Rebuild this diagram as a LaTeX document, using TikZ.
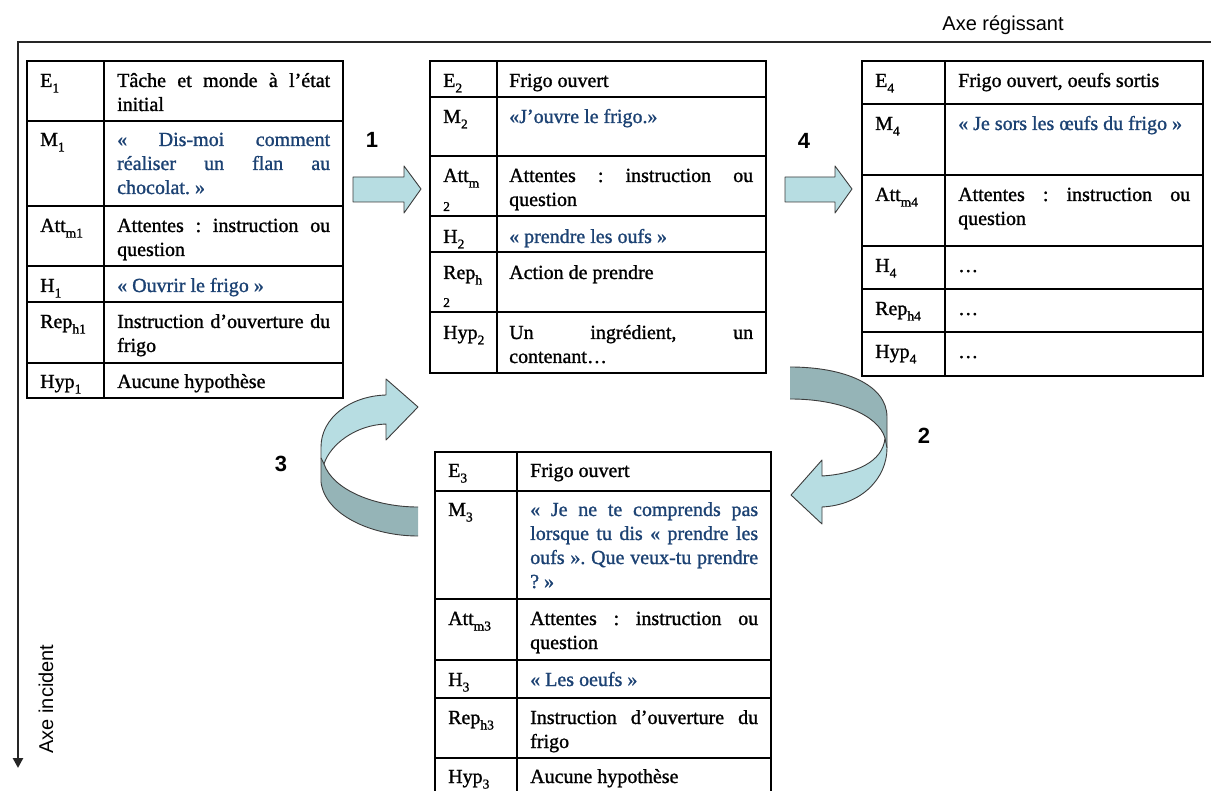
\documentclass[tikz,border=0pt]{standalone}
\usepackage{fontspec}
\setmainfont{Liberation Serif}[FakeBold=1.2]
\newfontfamily\arialfont{Liberation Sans}
\usetikzlibrary{arrows.meta}
\definecolor{msgblue}{RGB}{28,66,115}
\definecolor{arrowlight}{RGB}{183,221,226}
\definecolor{arrowdark}{RGB}{149,180,183}
\definecolor{arrowedge}{RGB}{60,60,60}
\hyphenpenalty=10000
\exhyphenpenalty=10000
\frenchspacing
\newcommand\sbs[1]{\raisebox{-5.5pt}{\fontsize{13.5}{13.5}\selectfont #1}}
\begin{document}
\begin{tikzpicture}[x=1pt,y=-1pt,
  tbl/.style={line width=2pt, draw=black},
  lab/.style={inner sep=0pt, anchor=base west, font=\fontsize{20}{24}\selectfont},
  txt/.style={inner sep=0pt, anchor=base west, align=justify, font=\fontsize{20}{24}\selectfont\frenchspacing},
  msg/.style={txt, text=msgblue},
  subtwo/.style={inner sep=0pt, anchor=base west, font=\fontsize{13.5}{13.5}\selectfont},
  num/.style={font=\arialfont\fontsize{22}{24}\selectfont\bfseries, inner sep=0pt},
  axislbl/.style={font=\arialfont\fontsize{20}{24}\selectfont, inner sep=0pt, anchor=base},
  axisline/.style={line width=2.5pt, draw=black!85},
  edge/.style={draw=arrowedge, line width=0.9pt, line join=round},
]
\useasboundingbox (0,0) rectangle (1211,791);

% axes
\draw[axisline, -{Triangle[width=10pt,length=10pt]}] (1215,42) -- (18,42) -- (18,768);
\node[axislbl] (axr) at (1003,31) {Axe régissant};
\node[axislbl, rotate=90] (axi) at (53,699) {Axe incident};

% ---------- Table 1 ----------
\draw[tbl] (27,61) rectangle (343,398);
\draw[tbl] (104,61) -- (104,398);
\foreach \yy in {121,206,266,302,363} \draw[tbl] (27,\yy) -- (343,\yy);
\node[lab] (a1) at (40,87) {E\sbs{1}};
\node[lab] (a2) at (40,146) {M\sbs{1}};
\node[lab] (a3) at (40,232) {Att\sbs{m1}};
\node[lab] (a4) at (40,292) {H\sbs{1}};
\node[lab] (a5) at (40,328) {Rep\sbs{h1}};
\node[lab] (a6) at (40,388) {Hyp\sbs{1}};
\node[txt, text width=213pt] (b1) at (117,87) {Tâche et monde à l’état\linebreak initial};
\node[msg, text width=213pt] (b2) at (117,146) {« Dis-moi comment\linebreak réaliser un flan au\linebreak chocolat. »};
\node[txt, text width=213pt] (b3) at (117,232) {Attentes : instruction ou\linebreak question};
\node[msg, text width=213pt] (b4) at (117,292) {« Ouvrir le frigo »};
\node[txt, text width=213pt] (b5) at (117,328) {Instruction d’ouverture du\linebreak frigo};
\node[txt, text width=213pt] (b6) at (117,388) {Aucune hypothèse};

% ---------- Table 2 ----------
\draw[tbl] (430,61) rectangle (766,373);
\draw[tbl] (497,61) -- (497,373);
\foreach \yy in {97,156,216,252,312} \draw[tbl] (430,\yy) -- (766,\yy);
\node[lab] (c1) at (443,87) {E\sbs{2}};
\node[lab] (c2) at (443,123) {M\sbs{2}};
\node[lab] (c3) at (443,182) {Att\sbs{m}};
\node[subtwo] (c3b) at (443,211) {2};
\node[lab] (c4) at (443,243) {H\sbs{2}};
\node[lab] (c5) at (443,279) {Rep\sbs{h}};
\node[subtwo] (c5b) at (443,307) {2};
\node[lab] (c6) at (443,339) {Hyp\sbs{2}};
\node[txt, text width=244pt] (d1) at (509,87) {Frigo ouvert};
\node[msg, text width=244pt] (d2) at (509,123) {«J’ouvre le frigo.»};
\node[txt, text width=244pt] (d3) at (509,182) {Attentes : instruction ou\linebreak question};
\node[msg, text width=244pt] (d4) at (509,243) {« prendre les oufs »};
\node[txt, text width=244pt] (d5) at (509,279) {Action de prendre};
\node[txt, text width=244pt] (d6) at (509,339) {Un ingrédient, un\linebreak contenant…};

% ---------- Table 4 ----------
\draw[tbl] (862,61) rectangle (1203,376);
\draw[tbl] (945,61) -- (945,376);
\foreach \yy in {104,175,246,289,332} \draw[tbl] (862,\yy) -- (1203,\yy);
\node[lab] (e1) at (875,87) {E\sbs{4}};
\node[lab] (e2) at (875,130) {M\sbs{4}};
\node[lab] (e3) at (875,201) {Att\sbs{m4}};
\node[lab] (e4) at (875,272) {H\sbs{4}};
\node[lab] (e5) at (875,315) {Rep\sbs{h4}};
\node[lab] (e6) at (875,358) {Hyp\sbs{4}};
\node[txt, text width=232pt] (f1) at (958,87) {Frigo ouvert, oeufs sortis};
\node[msg, text width=232pt] (f2) at (958,130) {« Je sors les œufs du frigo »};
\node[txt, text width=232pt] (f3) at (958,201) {Attentes : instruction ou\linebreak question};
\node[txt, text width=232pt] (f4) at (958,272) {…};
\node[txt, text width=232pt] (f5) at (958,315) {…};
\node[txt, text width=232pt] (f6) at (958,358) {…};

% ---------- Table 3 ----------
\draw[tbl] (435,452) rectangle (771,805);
\draw[tbl] (517,452) -- (517,805);
\foreach \yy in {491,599,660,698,758} \draw[tbl] (435,\yy) -- (771,\yy);
\node[lab] (g1) at (448,477) {E\sbs{3}};
\node[lab] (g2) at (448,516) {M\sbs{3}};
\node[lab] (g3) at (448,625) {Att\sbs{m3}};
\node[lab] (g4) at (448,686) {H\sbs{3}};
\node[lab] (g5) at (448,724) {Rep\sbs{h3}};
\node[lab] (g6) at (448,783) {Hyp\sbs{3}};
\node[txt, text width=228pt] (h1) at (530,477) {Frigo ouvert};
\node[msg, text width=228pt] (h2) at (530,516) {« Je ne te comprends pas\linebreak lorsque tu dis « prendre les\linebreak oufs ». Que veux-tu prendre\linebreak ? »};
\node[txt, text width=228pt] (h3) at (530,625) {Attentes : instruction ou\linebreak question};
\node[msg, text width=228pt] (h4) at (530,686) {« Les oeufs »};
\node[txt, text width=228pt] (h5) at (530,724) {Instruction d’ouverture du\linebreak frigo};
\node[txt, text width=228pt] (h6) at (530,783) {Aucune hypothèse};

% ---------- straight block arrows ----------
\draw[edge, fill=arrowlight] (353,177) -- (404,177) -- (404,166) -- (421,189) -- (404,213) -- (404,202) -- (353,202) -- cycle;
\draw[edge, fill=arrowlight] (785,177) -- (835,177) -- (835,166) -- (852,189) -- (835,213) -- (835,202) -- (785,202) -- cycle;

% ---------- curved arrow 2 ----------
\fill[arrowdark] (790,367) .. controls (845,367) and (887,385) .. (887,417) -- (887,448) -- (885,438) .. controls (878,415) and (840,399) .. (790,399) -- cycle;
\draw[edge] (790,367) .. controls (845,367) and (887,385) .. (887,417) -- (887,448);
\draw[edge] (885,438) .. controls (878,415) and (840,399) .. (790,399);
\draw[edge, fill=arrowlight] (885,438) -- (887,448) .. controls (887,478) and (862,505) .. (822,507) -- (822,524) -- (791,495) -- (822,460) -- (822,476) .. controls (855,474) and (883,462) .. (885,438) -- cycle;

% ---------- curved arrow 3 ----------
\fill[arrowdark] (418,536) .. controls (372,536) and (325,515) .. (321,482) -- (321,458) -- (324,464) .. controls (333,490) and (375,507) .. (418,507) -- cycle;
\draw[edge] (418,536) .. controls (372,536) and (325,515) .. (321,482) -- (321,458);
\draw[edge] (324,464) .. controls (333,490) and (375,507) .. (418,507);
\draw[edge, fill=arrowlight] (324,464) .. controls (330,445) and (355,425) .. (386,424) -- (386,440) -- (418,407) -- (386,379) -- (386,395) .. controls (350,396) and (321,418) .. (321,447) -- (321,458) -- cycle;

% ---------- numbers ----------
\node[num] (n1) at (372,140) {1};
\node[num] (n4) at (804,141) {4};
\node[num] (n2) at (924,436) {2};
\node[num] (n3) at (281,464) {3};
\end{tikzpicture}
\end{document}
